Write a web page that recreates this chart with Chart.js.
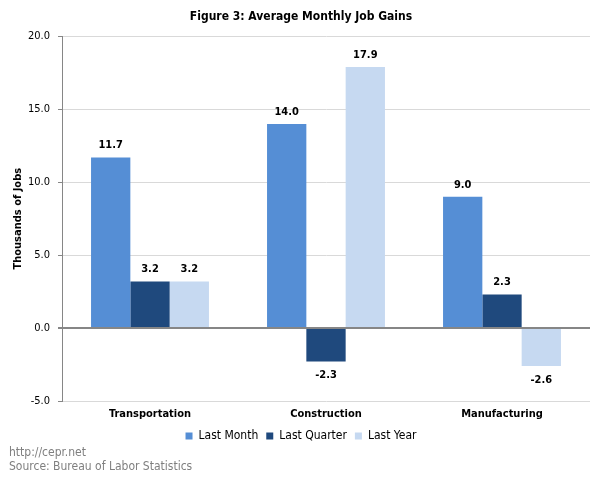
<!DOCTYPE html>
<html><head><meta charset="utf-8">
<script src="https://cdn.jsdelivr.net/npm/chart.js@4/dist/chart.umd.min.js"></script>
<style>html,body{margin:0;padding:0;background:#fff}#wrap{width:600px;height:480px}</style>
</head><body><div id="wrap"><canvas id="c" width="600" height="480"></canvas></div>
<script>
const categories = ["Transportation", "Construction", "Manufacturing"];
const lastMonth = [11.7, 14.0, 9.0];
const lastQuarter = [3.2, -2.3, 2.3];
const lastYear = [3.2, 17.9, -2.6];
const yTicks = [-5, 0, 5, 10, 15, 20];
const footerLines = ["http://cepr.net", "Source: Bureau of Labor Statistics"];

const FONT = "'DejaVu Sans Condensed', 'DejaVu Sans', Verdana, sans-serif";

const labelPlugin = {
  id: 'valueLabels',
  afterDatasetsDraw(chart) {
    const ctx = chart.ctx;
    ctx.save();
    ctx.font = "bold 11px " + FONT;
    ctx.fillStyle = "#000";
    ctx.textAlign = "center";
    ctx.textBaseline = "middle";
    chart.data.datasets.forEach((ds, i) => {
      chart.getDatasetMeta(i).data.forEach((bar, j) => {
        const v = ds.data[j];
        const y = v >= 0 ? bar.y - 12 : bar.y + 14;
        ctx.fillText(v.toFixed(1), bar.x, y);
      });
    });
    ctx.restore();
  }
};

const footerPlugin = {
  id: 'footer',
  afterDraw(chart) {
    const ctx = chart.ctx;
    ctx.save();
    ctx.font = "12px " + FONT;
    ctx.fillStyle = "#7f7f7f";
    ctx.textAlign = "left";
    ctx.textBaseline = "middle";
    footerLines.forEach((t, i) => ctx.fillText(t, 9, 453 + i * 14));
    ctx.restore();
  }
};

new Chart(document.getElementById('c'), {
  type: 'bar',
  data: {
    labels: categories,
    datasets: [
      { label: 'Last Month', data: lastMonth, backgroundColor: '#558ED5' },
      { label: 'Last Quarter', data: lastQuarter, backgroundColor: '#1F497D' },
      { label: 'Last Year', data: lastYear, backgroundColor: '#C6D9F1' }
    ]
  },
  options: {
    responsive: false,
    animation: false,
    devicePixelRatio: 1,
    layout: { padding: { left: 12, right: 10, top: 0, bottom: 28 } },
    datasets: { bar: { categoryPercentage: 0.67, barPercentage: 1.0 } },
    plugins: {
      title: { display: true, text: 'Figure 3: Average Monthly Job Gains', color: '#000',
        font: { family: FONT, size: 12, weight: 'bold' }, padding: { top: 10, bottom: 12 } },
      legend: { position: 'bottom',
        labels: { boxWidth: 7, boxHeight: 7, padding: 8, color: '#000', font: { family: FONT, size: 12 } } },
      tooltip: { enabled: false }
    },
    scales: {
      x: {
        afterFit(scale) { scale.height = 21; },
        grid: { display: false, drawTicks: false },
        border: { display: false },
        ticks: { color: '#000', font: { family: FONT, size: 11, weight: 'bold' }, padding: 7 }
      },
      y: {
        min: -5, max: 20,
        afterBuildTicks(scale) { scale.ticks = yTicks.map(v => ({ value: v })); },
        afterFit(scale) { scale.width = 50; },
        title: { display: true, text: 'Thousands of Jobs', color: '#000',
          font: { family: FONT, size: 11, weight: 'bold' }, padding: 0 },
        grid: {
          color: ctx => ctx.tick && ctx.tick.value === 0 ? '#868686' : '#d9d9d9',
          lineWidth: ctx => ctx.tick && ctx.tick.value === 0 ? 2 : 1,
          tickColor: '#868686', tickLength: 4
        },
        border: { display: true, color: '#868686' },
        ticks: { color: '#000', font: { family: FONT, size: 11 }, padding: 8,
          callback: v => Number(v).toFixed(1) }
      }
    }
  },
  plugins: [labelPlugin, footerPlugin]
});
</script></body></html>
